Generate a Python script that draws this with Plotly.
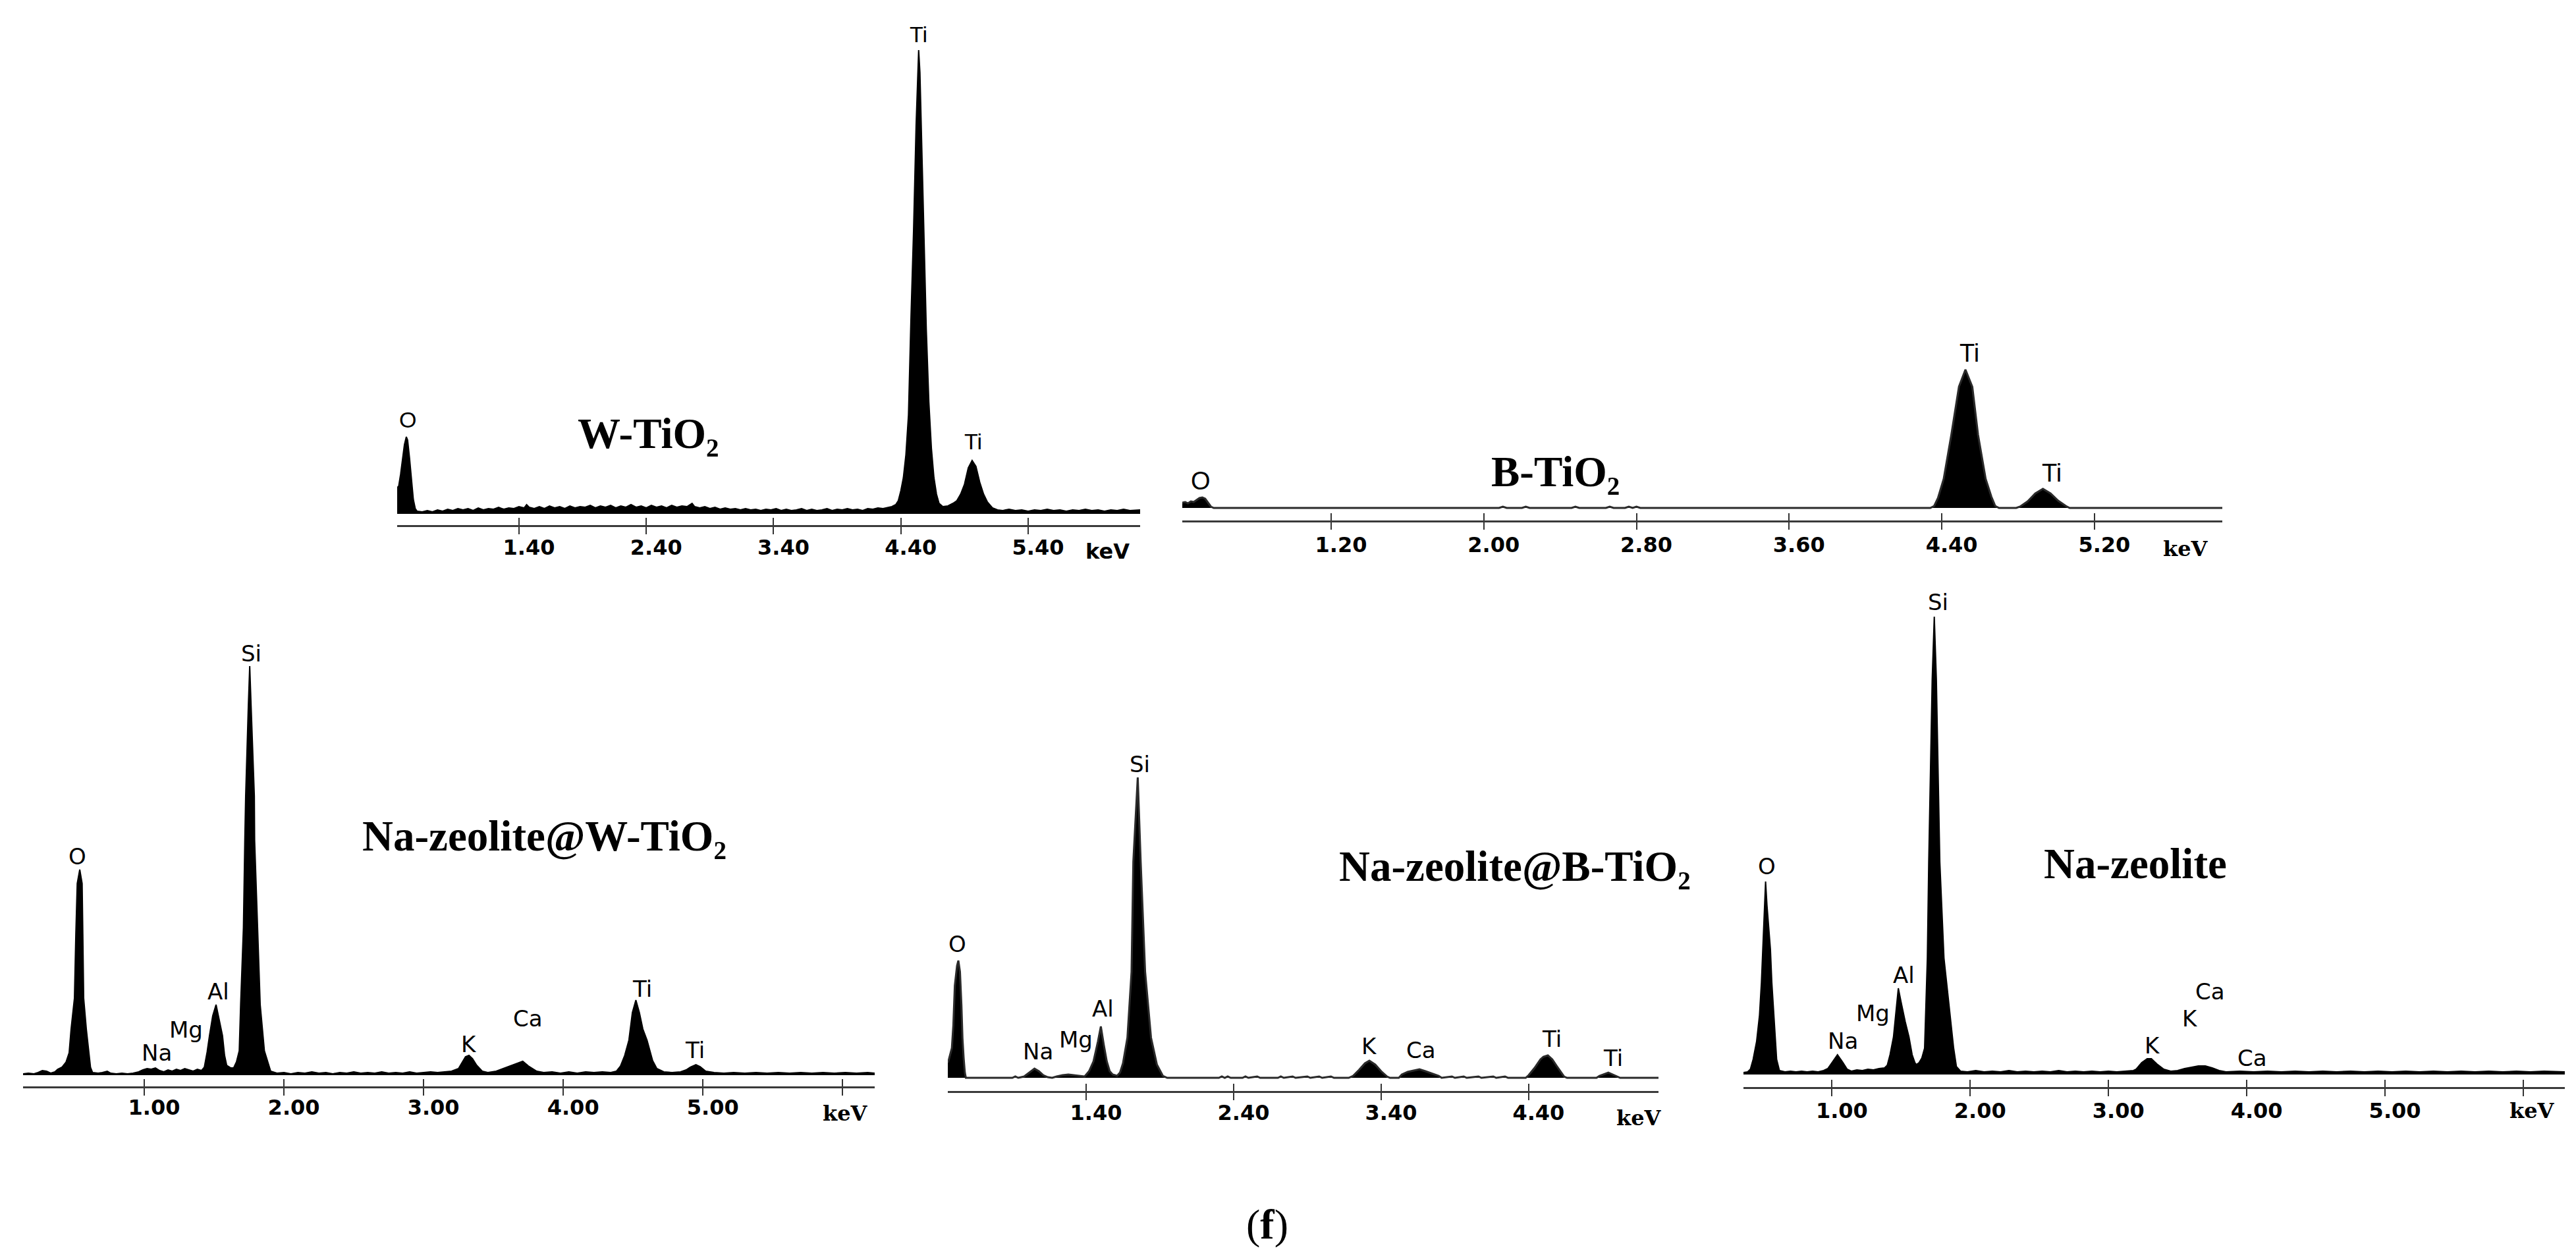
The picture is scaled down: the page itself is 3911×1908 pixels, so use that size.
import plotly.graph_objects as go

W, H = 3911, 1908

# EDS spectra: (energy keV, counts a.u.)
w_tio2 = [
    (0.443, 40), (0.455, 42), (0.47, 60), (0.49, 90), (0.50, 105), (0.515, 117), (0.525, 112),
    (0.54, 85), (0.555, 50), (0.57, 22), (0.585, 8), (0.60, 4), (0.64, 3), (0.68, 5), (0.72, 3),
    (0.76, 6), (0.80, 4), (0.84, 7), (0.88, 5), (0.92, 8), (0.96, 6), (1.00, 8), (1.04, 5),
    (1.08, 9), (1.12, 6), (1.16, 8), (1.20, 7), (1.24, 10), (1.28, 7), (1.32, 9), (1.36, 8),
    (1.40, 11), (1.44, 9), (1.46, 14), (1.48, 10), (1.52, 8), (1.56, 11), (1.60, 8), (1.64, 12),
    (1.68, 9), (1.72, 11), (1.76, 8), (1.80, 12), (1.84, 9), (1.88, 11), (1.92, 10), (1.96, 13),
    (2.00, 9), (2.04, 12), (2.08, 10), (2.12, 13), (2.16, 9), (2.20, 12), (2.24, 10), (2.28, 14),
    (2.32, 10), (2.36, 12), (2.40, 9), (2.44, 13), (2.48, 10), (2.52, 12), (2.56, 9), (2.60, 13),
    (2.64, 10), (2.68, 12), (2.72, 11), (2.76, 16), (2.78, 11), (2.82, 9), (2.86, 11), (2.90, 8),
    (2.94, 10), (2.98, 7), (3.02, 9), (3.06, 7), (3.10, 8), (3.14, 6), (3.18, 8), (3.22, 6),
    (3.26, 7), (3.30, 5), (3.34, 7), (3.38, 6), (3.42, 8), (3.46, 5), (3.50, 7), (3.54, 5),
    (3.58, 6), (3.62, 8), (3.66, 5), (3.70, 7), (3.74, 5), (3.78, 6), (3.82, 8), (3.86, 5),
    (3.90, 7), (3.94, 6), (3.98, 8), (4.02, 6), (4.06, 7), (4.10, 5), (4.14, 8), (4.18, 7),
    (4.22, 9), (4.26, 8), (4.30, 10), (4.33, 11), (4.36, 14), (4.38, 20), (4.40, 35), (4.42, 55),
    (4.44, 90), (4.46, 150), (4.48, 300), (4.50, 430), (4.52, 590), (4.53, 660), (4.54, 704),
    (4.55, 670), (4.56, 590), (4.58, 430), (4.60, 280), (4.62, 170), (4.64, 100), (4.66, 55),
    (4.68, 30), (4.70, 16), (4.73, 11), (4.77, 12), (4.81, 16), (4.84, 20), (4.87, 30), (4.90, 45),
    (4.93, 70), (4.96, 81), (4.99, 72), (5.02, 48), (5.05, 30), (5.08, 18), (5.12, 9), (5.16, 6),
    (5.20, 5), (5.25, 7), (5.30, 5), (5.35, 6), (5.40, 4), (5.45, 6), (5.50, 5), (5.55, 7),
    (5.60, 5), (5.65, 6), (5.70, 4), (5.75, 6), (5.80, 5), (5.85, 7), (5.90, 5), (5.95, 6),
    (6.00, 4), (6.05, 6), (6.10, 5), (6.15, 7), (6.20, 5), (6.28, 6),
]

b_tio2 = [
    (0.42, 8), (0.435, 9), (0.45, 7), (0.465, 10), (0.48, 9), (0.495, 12), (0.51, 15), (0.525, 16),
    (0.54, 14), (0.555, 8), (0.57, 2), (0.585, 0), (2.08, 0), (2.10, 2), (2.12, 0), (2.20, 0),
    (2.22, 2), (2.24, 0), (2.46, 0), (2.48, 2), (2.50, 0), (2.64, 0), (2.66, 2), (2.68, 0),
    (2.74, 0), (2.76, 2), (2.78, 0), (2.80, 2), (2.82, 0), (4.34, 0), (4.36, 3), (4.38, 15),
    (4.41, 44), (4.45, 111), (4.49, 184), (4.524, 210), (4.56, 184), (4.59, 111), (4.63, 44),
    (4.66, 17), (4.68, 3), (4.70, 0), (4.79, 0), (4.81, 2), (4.85, 10), (4.89, 22), (4.93, 29),
    (4.97, 22), (5.01, 11), (5.05, 3), (5.07, 0), (5.87, 0),
]

zeolite_w_tio2 = [
    (0.132, 2), (0.17, 3), (0.21, 2), (0.24, 4), (0.27, 7), (0.30, 6), (0.33, 3), (0.36, 5),
    (0.38, 9), (0.41, 12), (0.44, 20), (0.462, 34), (0.476, 70), (0.50, 117), (0.51, 214),
    (0.52, 291), (0.538, 312), (0.555, 291), (0.56, 214), (0.566, 117), (0.585, 70), (0.604, 34),
    (0.615, 12), (0.63, 4), (0.67, 3), (0.70, 4), (0.735, 6), (0.76, 3), (0.80, 2), (0.84, 3),
    (0.88, 2), (0.92, 3), (0.96, 5), (0.99, 8), (1.02, 10), (1.05, 9), (1.08, 11), (1.11, 7),
    (1.14, 5), (1.17, 8), (1.20, 6), (1.23, 9), (1.26, 7), (1.29, 10), (1.32, 8), (1.35, 6),
    (1.38, 9), (1.41, 7), (1.43, 12), (1.45, 35), (1.467, 60), (1.49, 90), (1.514, 107),
    (1.53, 90), (1.56, 60), (1.575, 30), (1.59, 15), (1.62, 11), (1.64, 11), (1.66, 20),
    (1.68, 37), (1.69, 107), (1.71, 224), (1.72, 357), (1.726, 424), (1.745, 560), (1.755, 621),
    (1.765, 560), (1.788, 424), (1.79, 357), (1.81, 224), (1.83, 107), (1.86, 37), (1.89, 15),
    (1.905, 6), (1.95, 3), (2.00, 4), (2.05, 2), (2.10, 4), (2.15, 3), (2.20, 5), (2.25, 3),
    (2.30, 4), (2.35, 2), (2.40, 4), (2.45, 3), (2.50, 5), (2.55, 3), (2.60, 4), (2.65, 3),
    (2.70, 5), (2.75, 3), (2.80, 4), (2.85, 3), (2.90, 5), (2.95, 3), (3.00, 4), (3.05, 5),
    (3.10, 4), (3.15, 5), (3.20, 6), (3.25, 10), (3.28, 20), (3.30, 28), (3.325, 30), (3.35, 25),
    (3.38, 15), (3.42, 6), (3.46, 4), (3.52, 6), (3.57, 10), (3.62, 14), (3.67, 18), (3.71, 21),
    (3.75, 14), (3.81, 6), (3.86, 4), (3.92, 5), (3.98, 3), (4.04, 5), (4.10, 3), (4.16, 5),
    (4.22, 4), (4.28, 5), (4.34, 4), (4.38, 6), (4.41, 14), (4.44, 30), (4.47, 53), (4.495, 95),
    (4.52, 114), (4.545, 95), (4.57, 70), (4.60, 53), (4.64, 22), (4.67, 10), (4.72, 5),
    (4.78, 4), (4.84, 5), (4.88, 8), (4.91, 12), (4.95, 16), (4.98, 13), (5.02, 6), (5.08, 4),
    (5.15, 3), (5.22, 4), (5.30, 3), (5.38, 4), (5.46, 3), (5.54, 4), (5.62, 3), (5.70, 4),
    (5.78, 3), (5.86, 4), (5.94, 3), (6.02, 4), (6.10, 3), (6.18, 4), (6.23, 3),
]

zeolite_b_tio2 = [
    (0.4625, 23), (0.47, 28), (0.49, 45), (0.50, 80), (0.51, 140), (0.525, 170), (0.534, 178),
    (0.545, 161), (0.555, 110), (0.562, 60), (0.57, 30), (0.578, 8), (0.585, 0), (0.90, 0),
    (0.92, 2), (0.94, 0), (0.98, 2), (1.01, 7), (1.05, 14), (1.08, 10), (1.11, 4), (1.14, 1),
    (1.17, 0), (1.20, 2), (1.24, 4), (1.28, 5), (1.32, 4), (1.36, 3), (1.39, 2), (1.42, 10),
    (1.45, 25), (1.48, 55), (1.50, 78), (1.52, 50), (1.54, 25), (1.56, 10), (1.58, 5), (1.61, 3),
    (1.63, 8), (1.65, 22), (1.68, 61), (1.708, 161), (1.72, 328), (1.75, 456), (1.77, 328),
    (1.80, 161), (1.84, 61), (1.88, 20), (1.92, 3), (1.95, 0), (2.30, 0), (2.32, 2), (2.34, 0),
    (2.36, 2), (2.38, 0), (2.46, 0), (2.48, 2), (2.50, 0), (2.56, 2), (2.58, 0), (2.70, 0),
    (2.72, 2), (2.74, 0), (2.80, 2), (2.82, 0), (2.90, 2), (2.92, 0), (2.98, 2), (3.00, 0),
    (3.06, 2), (3.08, 0), (3.18, 0), (3.21, 3), (3.25, 12), (3.29, 22), (3.32, 26), (3.36, 20),
    (3.40, 10), (3.44, 2), (3.46, 0), (3.52, 0), (3.54, 5), (3.58, 9), (3.62, 11), (3.66, 13),
    (3.70, 10), (3.74, 7), (3.79, 3), (3.81, 0), (3.88, 2), (3.90, 0), (3.96, 2), (3.98, 0),
    (4.06, 2), (4.08, 0), (4.16, 2), (4.18, 0), (4.24, 2), (4.26, 0), (4.38, 0), (4.40, 4),
    (4.44, 15), (4.48, 28), (4.50, 32), (4.53, 34), (4.56, 28), (4.59, 18), (4.62, 8), (4.64, 2),
    (4.66, 0), (4.86, 0), (4.88, 3), (4.92, 6), (4.94, 8), (4.97, 5), (5.00, 2), (5.02, 0),
    (5.28, 0),
]

zeolite = [
    (0.36, 3), (0.39, 4), (0.41, 8), (0.43, 23), (0.455, 50), (0.476, 90), (0.49, 140), (0.50, 190),
    (0.51, 257), (0.52, 293), (0.53, 257), (0.555, 190), (0.565, 140), (0.58, 90), (0.595, 40),
    (0.60, 23), (0.62, 6), (0.66, 4), (0.70, 5), (0.74, 4), (0.78, 5), (0.82, 4), (0.86, 5),
    (0.90, 4), (0.94, 6), (0.97, 9), (1.00, 18), (1.04, 30), (1.08, 18), (1.11, 8), (1.14, 5),
    (1.18, 7), (1.22, 6), (1.26, 8), (1.30, 7), (1.34, 9), (1.38, 10), (1.40, 14), (1.42, 30),
    (1.445, 57), (1.47, 110), (1.48, 131), (1.50, 110), (1.53, 80), (1.557, 57), (1.58, 30),
    (1.60, 18), (1.61, 15), (1.63, 18), (1.65, 25), (1.67, 40), (1.69, 177), (1.70, 323),
    (1.708, 423), (1.725, 600), (1.74, 695), (1.755, 600), (1.771, 423), (1.78, 323), (1.81, 177),
    (1.88, 40), (1.90, 12), (1.93, 5), (1.98, 4), (2.04, 6), (2.10, 4), (2.16, 5), (2.22, 4),
    (2.28, 6), (2.34, 4), (2.40, 5), (2.46, 4), (2.52, 5), (2.58, 4), (2.64, 6), (2.70, 4),
    (2.76, 5), (2.82, 4), (2.88, 5), (2.94, 4), (3.00, 5), (3.06, 4), (3.12, 5), (3.18, 6),
    (3.20, 8), (3.24, 18), (3.28, 24), (3.31, 24), (3.35, 16), (3.40, 8), (3.45, 5), (3.50, 6),
    (3.55, 9), (3.60, 11), (3.65, 13), (3.70, 13), (3.75, 10), (3.80, 6), (3.85, 4), (3.95, 5),
    (4.05, 4), (4.15, 5), (4.25, 4), (4.35, 5), (4.45, 4), (4.55, 5), (4.65, 4), (4.75, 5),
    (4.85, 4), (4.95, 5), (5.05, 4), (5.15, 5), (5.25, 4), (5.35, 5), (5.45, 4), (5.55, 5),
    (5.65, 4), (5.75, 5), (5.85, 4), (5.95, 5), (6.05, 4), (6.15, 5), (6.25, 4), (6.30, 4),
]

# element labels: (element, keV, counts at label centre)
w_tio2_peaks = [("O", 0.526, 143), ("Ti", 4.54, 728), ("Ti", 4.97, 110)]
b_tio2_peaks = [("O", 0.518, 41), ("Ti", 4.543, 235), ("Ti", 4.975, 53)]
zeolite_w_tio2_peaks = [
    ("O", 0.519, 332), ("Na", 1.09, 34), ("Mg", 1.30, 69), ("Al", 1.528, 127), ("Si", 1.764, 640),
    ("K", 3.325, 47), ("Ca", 3.745, 86), ("Ti", 4.566, 131), ("Ti", 4.943, 38),
]
zeolite_b_tio2_peaks = [
    ("O", 0.525, 203), ("Na", 1.074, 40), ("Mg", 1.329, 58), ("Al", 1.516, 105), ("Si", 1.762, 476),
    ("K", 3.32, 48), ("Ca", 3.672, 42), ("Ti", 4.556, 59), ("Ti", 4.97, 30),
]
zeolite_peaks = [
    ("O", 0.529, 316), ("Na", 1.081, 51), ("Mg", 1.295, 93), ("Al", 1.519, 151), ("Si", 1.767, 717),
    ("K", 3.319, 44), ("K", 3.59, 85), ("Ca", 3.733, 126), ("Ca", 4.038, 25),
]

w_tio2_ticks = [1.4, 2.4, 3.4, 4.4, 5.4]
w_tio2_ticktext = ["1.40", "2.40", "3.40", "4.40", "5.40"]
b_tio2_ticks = [1.2, 2.0, 2.8, 3.6, 4.4, 5.2]
b_tio2_ticktext = ["1.20", "2.00", "2.80", "3.60", "4.40", "5.20"]
zeolite_w_ticks = [1, 2, 3, 4, 5]
zeolite_w_ticktext = ["1.00", "2.00", "3.00", "4.00", "5.00"]
zeolite_w_unlabelled = [6]
zeolite_b_ticks = [1.4, 2.4, 3.4, 4.4]
zeolite_b_ticktext = ["1.40", "2.40", "3.40", "4.40"]
zeolite_ticks = [1, 2, 3, 4, 5]
zeolite_ticktext = ["1.00", "2.00", "3.00", "4.00", "5.00"]
zeolite_unlabelled = [6]

# layout in pixels: left, right, baseline, axis line, top
panels = [
    dict(data=w_tio2, peaks=w_tio2_peaks, ticks=w_tio2_ticks, ticktext=w_tio2_ticktext, extra=[],
         box=(595, 1723, 772, 789, 30), xrange=(0.443, 6.28), title="W-TiO₂",
         title_at=(976, 650), kev_at=(1673, 829), kev_font="DejaVu Sans", standoff=-7,
         label_font="Liberation Sans", label_size=34, line="black", lw=2),
    dict(data=b_tio2, peaks=b_tio2_peaks, ticks=b_tio2_ticks, ticktext=b_tio2_ticktext, extra=[],
         box=(1787, 3366, 763, 782, 480), xrange=(0.42, 5.87), title="B-TiO₂",
         title_at=(2353, 708), kev_at=(3310, 825), kev_font="DejaVu Serif", standoff=-4,
         label_font="Liberation Sans", label_size=38, line="#2a2a2a", lw=3),
    dict(data=zeolite_w_tio2, peaks=zeolite_w_tio2_peaks, ticks=zeolite_w_ticks,
         ticktext=zeolite_w_ticktext, extra=zeolite_w_unlabelled,
         box=(27, 1320, 1624, 1641, 960), xrange=(0.132, 6.23),
         title="Na-zeolite@W-TiO₂", title_at=(818, 1261), kev_at=(1275, 1682),
         kev_font="DejaVu Serif", standoff=-9, label_font="DejaVu Sans", label_size=34,
         line="black", lw=2),
    dict(data=zeolite_b_tio2, peaks=zeolite_b_tio2_peaks, ticks=zeolite_b_ticks,
         ticktext=zeolite_b_ticktext, extra=[],
         box=(1431, 2510, 1628, 1648, 1120), xrange=(0.4625, 5.28),
         title="Na-zeolite@B-TiO₂", title_at=(2292, 1307), kev_at=(2480, 1689),
         kev_font="DejaVu Serif", standoff=-8, label_font="DejaVu Sans", label_size=34,
         line="#2a2a2a", lw=3),
    dict(data=zeolite, peaks=zeolite_peaks, ticks=zeolite_ticks, ticktext=zeolite_ticktext,
         extra=zeolite_unlabelled, box=(2639, 3886, 1623, 1642, 880), xrange=(0.36, 6.30),
         title="Na-zeolite", title_at=(3234, 1303), kev_at=(3836, 1678),
         kev_font="DejaVu Serif", standoff=-5, label_font="DejaVu Sans", label_size=34,
         line="black", lw=2),
]


def sfx(i):
    return "" if i == 1 else str(i)


fig = go.Figure()
annotations = []
for i, p in enumerate(panels, start=1):
    left, right, base, axis, top = p["box"]
    kev, counts = zip(*p["data"])
    xa, ya, xo = f"x{sfx(i)}", f"y{sfx(i)}", f"x{i + 5}"

    fig.add_trace(go.Scatter(
        x=kev, y=counts, mode="lines", fill="tozeroy", fillcolor="black",
        line=dict(color=p["line"], width=p["lw"]), xaxis=xa, yaxis=ya, hoverinfo="skip",
    ))
    fig.add_trace(go.Scatter(x=[], y=[], xaxis=xo, yaxis=ya, hoverinfo="skip"))

    tick_style = dict(tickcolor="#333", tickwidth=2, ticklen=11)
    fig.update_layout({
        f"xaxis{sfx(i)}": dict(
            domain=[left / W, right / W], anchor=ya, range=list(p["xrange"]),
            showline=True, linecolor="#3a3a3a", linewidth=3, showgrid=False, zeroline=False,
            ticks="outside", tickmode="array", tickvals=p["ticks"], ticktext=p["ticktext"],
            ticklabelshift=15, ticklabelstandoff=p["standoff"],
            tickfont=dict(family="DejaVu Sans", size=32, color="black", weight="bold"),
            minor=dict(tickmode="array", tickvals=p["extra"], ticks="outside" if p["extra"] else "",
                       showgrid=False, **tick_style),
            **tick_style,
        ),
        f"xaxis{i + 5}": dict(
            overlaying=xa, anchor=ya, range=list(p["xrange"]), ticks="inside",
            tickmode="array", tickvals=p["ticks"] + p["extra"], showticklabels=False,
            showline=False, showgrid=False, zeroline=False, **tick_style,
        ),
        f"yaxis{sfx(i)}": dict(
            domain=[(H - axis) / H, (H - top) / H], range=[base - axis, base - top],
            anchor=xa, visible=False,
        ),
    })

    for name, x, y in p["peaks"]:
        annotations.append(dict(
            text=name, x=x, y=y, xref=xa, yref=ya, showarrow=False,
            xanchor="center", yanchor="middle",
            font=dict(family=p["label_font"], size=p["label_size"], color="black"),
        ))
    tx, ty = p["title_at"]
    annotations.append(dict(
        text=p["title"], x=tx / W, y=1 - ty / H, xref="paper", yref="paper", showarrow=False,
        xanchor="center", yanchor="middle",
        font=dict(family="Liberation Serif", size=65, color="black", weight="bold"),
    ))
    kx, ky = p["kev_at"]
    annotations.append(dict(
        text="keV", x=kx / W, y=1 - ky / H, xref="paper", yref="paper", showarrow=False,
        xanchor="center", yanchor="middle",
        font=dict(family=p["kev_font"], size=32, color="black", weight="bold"),
    ))

annotations.append(dict(
    text="(<b>f</b>)", x=1916 / W, y=1 - 1850 / H, xref="paper", yref="paper",
    showarrow=False, xanchor="center", yanchor="middle",
    font=dict(family="Liberation Serif", size=64, color="black"),
))

fig.update_layout(
    width=W, height=H, margin=dict(l=0, r=0, t=0, b=0), showlegend=False,
    paper_bgcolor="white", plot_bgcolor="white", annotations=annotations,
)

fig.write_html("out.html")
